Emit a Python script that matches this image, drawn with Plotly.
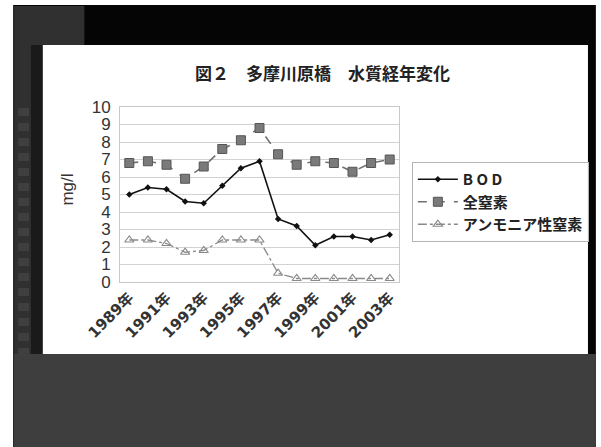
import plotly.graph_objects as go

# 多摩川原橋 water quality, yearly averages (mg/l)
years = ["1989年", "1990年", "1991年", "1992年", "1993年", "1994年", "1995年", "1996年",
         "1997年", "1998年", "1999年", "2000年", "2001年", "2002年", "2003年"]
bod = [5.0, 5.4, 5.3, 4.6, 4.5, 5.5, 6.5, 6.9, 3.6, 3.2, 2.1, 2.6, 2.6, 2.4, 2.7]
total_n = [6.8, 6.9, 6.7, 5.9, 6.6, 7.6, 8.1, 8.8, 7.3, 6.7, 6.9, 6.8, 6.3, 6.8, 7.0]
ammonia_n = [2.4, 2.4, 2.2, 1.7, 1.8, 2.4, 2.4, 2.4, 0.5, 0.2, 0.2, 0.2, 0.2, 0.2, 0.2]
labelled_years = years[::2]

W, H = 601, 447
L, R, T, B = 120, 402, 107, 282   # plot area in pixels


def px(x):
    return (x - L) / (R - L)


def py(y):
    return (B - y) / (B - T)


def rect(x0, y0, x1, y1, color, layer="below"):
    return dict(type="rect", xref="paper", yref="paper", layer=layer,
                x0=px(x0), x1=px(x1), y0=py(y1), y1=py(y0),
                fillcolor=color, line=dict(width=0))


shapes = [
    rect(12, 5, W, H, "#050505"),          # slide frame
    rect(13, 6, 84, H, "#303030"),         # left band
    rect(30, 45, 42, 354, "#1a1a1a"),      # shade beside the panel
    rect(13, 354, W, H, "#3e3e3e"),        # lower area
]
for y in range(108, 372, 15):
    shapes.append(rect(17, y, 28, y + 8, "#3f3f3f"))
shapes.append(rect(42, 45, 593, 354, "#ffffff"))   # chart panel

fig = go.Figure()
fig.add_trace(go.Scatter(
    x=years, y=bod, name="B O D", mode="lines+markers",
    line=dict(color="#111111", width=1.6),
    marker=dict(symbol="diamond", size=5, color="#111111")))
fig.add_trace(go.Scatter(
    x=years, y=total_n, name="全窒素", mode="lines+markers",
    line=dict(color="#707070", width=1.6, dash="dash"),
    marker=dict(symbol="square", size=9, color="#7a7a7a",
                line=dict(color="#555555", width=1))))
fig.add_trace(go.Scatter(
    x=years, y=ammonia_n, name="アンモニア性窒素", mode="lines+markers",
    line=dict(color="#8a8a8a", width=1.3, dash="dashdot"),
    marker=dict(symbol="triangle-up-open", size=8, color="#8a8a8a",
                line=dict(width=1.2))))

fig.update_layout(
    width=W, height=H,
    margin=dict(l=L, r=W - R, t=T, b=H - B, pad=0),
    paper_bgcolor="#ffffff", plot_bgcolor="rgba(0,0,0,0)",
    shapes=shapes,
    showlegend=True,
    legend=dict(x=px(415), y=py(162), xanchor="left", yanchor="top",
                bgcolor="rgba(0,0,0,0)", borderwidth=1, bordercolor="#b4b4b4",
                font=dict(family="Noto Sans CJK JP", size=15, color="#222222", weight="bold"),
                tracegroupgap=0, itemwidth=40),
    annotations=[
        dict(text="図２　多摩川原橋　水質経年変化", xref="paper", yref="paper",
             x=px(325), y=py(72), xanchor="center", yanchor="middle", showarrow=False,
             font=dict(family="Noto Sans CJK JP", size=17, color="#222222", weight="bold")),
        dict(text="mg/l", xref="paper", yref="paper", textangle=-90,
             x=px(66), y=py(190), xanchor="center", yanchor="middle", showarrow=False,
             font=dict(family="Liberation Sans, Arial", size=17, color="#333333")),
    ],
    xaxis=dict(
        type="category", range=[-0.5, 14.5],
        tickmode="array", tickvals=labelled_years, ticktext=labelled_years,
        tickangle=-45, showgrid=False, zeroline=False,
        showline=True, linecolor="#c8c8c8", linewidth=1, mirror=True,
        ticks="", tickfont=dict(family="DejaVu Sans, Noto Sans CJK JP", size=15,
                                color="#333333", weight="bold"),
    ),
    yaxis=dict(
        range=[0, 10], dtick=1, tick0=0,
        showgrid=True, gridcolor="#d2d2d2", gridwidth=1, zeroline=False,
        showline=True, linecolor="#c8c8c8", linewidth=1, mirror=True,
        ticks="", ticklabelstandoff=5,
        tickfont=dict(family="Liberation Sans, Arial", size=17, color="#333333"),
    ),
)

fig.write_html("out.html")
